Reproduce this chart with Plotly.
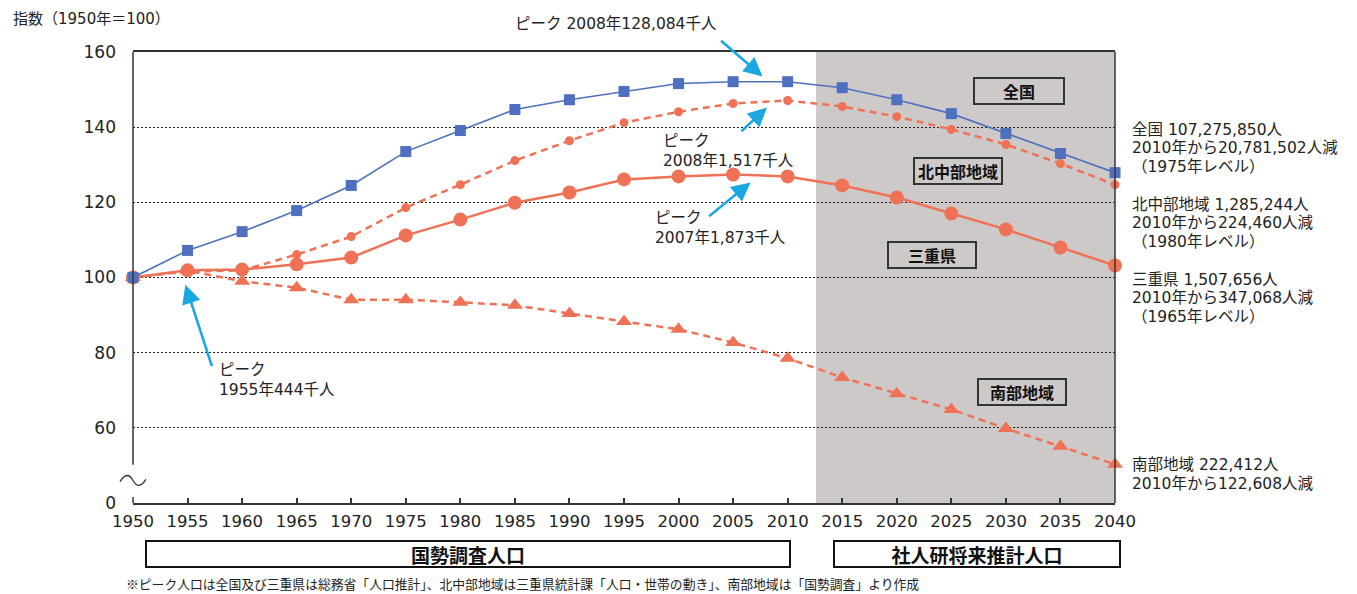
import plotly.graph_objects as go

years = [1950, 1955, 1960, 1965, 1970, 1975, 1980, 1985, 1990, 1995,
         2000, 2005, 2010, 2015, 2020, 2025, 2030, 2035, 2040]
zenkoku = [100, 107.2, 112.2, 117.8, 124.5, 133.5, 139.1, 144.7, 147.3, 149.5,
           151.6, 152.1, 152.1, 150.5, 147.3, 143.6, 138.3, 133.0, 127.9]
hokuchubu = [100, 101.6, 101.9, 106.1, 110.9, 118.6, 124.7, 131.1, 136.4, 141.2,
             144.1, 146.3, 147.1, 145.5, 142.8, 139.4, 135.4, 130.3, 124.7]
mie = [100, 101.9, 102.1, 103.5, 105.3, 111.2, 115.4, 119.9, 122.6, 126.1,
       126.9, 127.4, 126.9, 124.5, 121.3, 117.0, 112.8, 108.0, 103.2]
nanbu = [100, 101.8, 99.0, 97.3, 94.1, 94.1, 93.4, 92.6, 90.4, 88.3,
         86.2, 82.7, 78.5, 73.4, 69.1, 64.9, 59.8, 55.1, 50.3]

ytick_vals = [40, 60, 80, 100, 120, 140, 160]
ytick_text = ["0", "60", "80", "100", "120", "140", "160"]
xtick_vals = years

BLUE = "#4f70be"
ORANGE = "#f07256"
CYAN = "#1aa7e2"
GREY = "#cdc9c8"
INK = "#222222"
FONT = "DejaVu Sans, Noto Sans CJK JP, sans-serif"
JFONT = "Noto Sans CJK JP, sans-serif"

# plot area in page pixels (reference): x 133..1115, y 52..503
PL, PR, PT, PB = 133, 1115, 52, 503
PW, PH = PR - PL, PB - PT
BODY = 8  # default page margin of the html body


def px(xp):
    return (xp - PL) / PW


def py(yp):
    return (PB - yp) / PH


fig = go.Figure()

fig.add_trace(go.Scatter(x=years, y=nanbu, mode="lines+markers", name="南部地域",
                         line=dict(color=ORANGE, width=2.5, dash="7px,5px"),
                         marker=dict(symbol="triangle-up", size=14, color=ORANGE),
                         cliponaxis=False))
fig.add_trace(go.Scatter(x=years, y=hokuchubu, mode="lines+markers", name="北中部地域",
                         line=dict(color=ORANGE, width=2.5, dash="7px,5px"),
                         marker=dict(symbol="circle", size=9, color=ORANGE),
                         cliponaxis=False))
fig.add_trace(go.Scatter(x=years, y=mie, mode="lines+markers", name="三重県",
                         line=dict(color=ORANGE, width=2.5),
                         marker=dict(symbol="circle", size=14, color=ORANGE),
                         cliponaxis=False))
fig.add_trace(go.Scatter(x=years, y=zenkoku, mode="lines+markers", name="全国",
                         line=dict(color=BLUE, width=1.6),
                         marker=dict(symbol="square", size=11, color=BLUE),
                         cliponaxis=False))

bx = 13 / PW
shapes = [
    dict(type="rect", xref="x", yref="y", x0=2012.6, x1=2040, y0=40, y1=160,
         fillcolor=GREY, line=dict(width=0), layer="below"),
    # left axis (broken)
    dict(type="line", xref="paper", yref="y", x0=0, x1=0, y0=50.2, y1=160,
         line=dict(color="#333", width=1.5)),
    dict(type="line", xref="paper", yref="y", x0=0, x1=0, y0=40, y1=41.6,
         line=dict(color="#333", width=1.5)),
    # right border
    dict(type="line", xref="paper", yref="y", x0=1, x1=1, y0=40, y1=160,
         line=dict(color="#333", width=1.5)),
    # break mark
    dict(type="path", xref="paper", yref="y",
         path=f"M {-bx},45.7 C {-bx*0.6},47.8 {-bx*0.3},47.8 0,46 S {bx*0.6},44.2 {bx},46.3",
         line=dict(color="#333", width=1.3)),
]

annotations = []

annotations.append(dict(text="指数（1950年＝100）", xref="paper", yref="paper",
                        x=px(11), y=py(19), xanchor="left",
                        yanchor="middle", showarrow=False,
                        font=dict(size=15, color=INK, family=FONT)))

# label boxes inside the plot
for txt, cx, cy, w in [("全国", 2031.2, 149.5, 88), ("北中部地域", 2025.6, 128.3, 86),
                       ("三重県", 2023.2, 105.9, 86), ("南部地域", 2031.5, 69.5, 86)]:
    annotations.append(dict(text="<b>" + txt + "</b>", x=cx, y=cy, xref="x", yref="y",
                            showarrow=False, width=w, height=24, borderpad=0,
                            bordercolor="#333", borderwidth=2, bgcolor=GREY,
                            font=dict(size=16, color="#111", family=JFONT)))

# right side notes
right_lines = [
    ("全国 107,275,850人", 130), ("2010年から20,781,502人減", 148), ("（1975年レベル）", 167),
    ("北中部地域 1,285,244人", 205), ("2010年から224,460人減", 223), ("（1980年レベル）", 242),
    ("三重県 1,507,656人", 280), ("2010年から347,068人減", 298), ("（1965年レベル）", 317),
    ("南部地域 222,412人", 465), ("2010年から122,608人減", 484),
]
for txt, yy in right_lines:
    annotations.append(dict(text=txt, xref="paper", yref="paper",
                            x=px(1130), y=py(yy),
                            xanchor="left", yanchor="middle", showarrow=False,
                            font=dict(size=15.5, color=INK, family=FONT)))

# peak texts
peak_texts = [
    ("ピーク 2008年128,084千人", 513, 24),
    ("ピーク<br>2008年1,517千人", 661, 151),
    ("ピーク<br>2007年1,873千人", 653, 228),
    ("ピーク<br>1955年444千人", 217, 380),
]
for txt, xx, yy in peak_texts:
    annotations.append(dict(text=txt, xref="paper", yref="paper",
                            x=px(xx), y=py(yy),
                            xanchor="left", yanchor="middle", align="left",
                            showarrow=False,
                            font=dict(size=15.5, color=INK, family=FONT)))

# arrows
for hx, hy, ax, ay in [(2007.7, 153.5, -43, -37), (2008.1, 145.2, -27, 25),
                       (2006.6, 125.3, -43, 35), (1954.8, 98.1, 27, 83)]:
    annotations.append(dict(text="", x=hx, y=hy, xref="x", yref="y", ax=ax, ay=ay,
                            showarrow=True, arrowhead=2, arrowsize=1.45,
                            arrowwidth=2.6, arrowcolor=CYAN, standoff=0))

# bottom boxes
for txt, x0, x1 in [("国勢調査人口", 145, 791), ("社人研将来推計人口", 833, 1121)]:
    annotations.append(dict(text="<b>" + txt + "</b>", xref="paper", yref="paper",
                            x=px((x0 + x1) / 2), y=py(554),
                            xanchor="center", yanchor="middle", showarrow=False,
                            width=x1 - x0 - 4, height=24, borderpad=0,
                            bordercolor="#111", borderwidth=2, bgcolor="white",
                            font=dict(size=19, color="#111", family=JFONT)))

annotations.append(dict(text="※ピーク人口は全国及び三重県は総務省「人口推計」、北中部地域は三重県統計課「人口・世帯の動き」、南部地域は「国勢調査」より作成",
                        xref="paper", yref="paper", x=px(124),
                        y=py(583), xanchor="left", yanchor="middle",
                        showarrow=False, font=dict(size=12.8, color=INK, family=JFONT)))

fig.update_layout(
    width=1357 - BODY, height=594 - BODY,
    margin=dict(l=PL - BODY, r=1357 - PR, t=PT - BODY, b=594 - PB, pad=0),
    plot_bgcolor="white", paper_bgcolor="white",
    showlegend=False,
    shapes=shapes, annotations=annotations,
    font=dict(family=FONT, color=INK),
    xaxis=dict(range=[1950, 2040], tickvals=xtick_vals, ticks="inside", ticklen=5,
               tickwidth=1.5, tickcolor="#333", showline=True, mirror=True,
               linecolor="#333", linewidth=1.5, showgrid=False, zeroline=False,
               tickfont=dict(size=16.5, color=INK, family=FONT), ticklabelstandoff=2),
    yaxis=dict(range=[40, 160], tickvals=ytick_vals, ticktext=ytick_text,
               showline=False, showgrid=True, gridcolor="#222", griddash="2px,2px",
               gridwidth=1, zeroline=False, ticks="",
               tickfont=dict(size=17, color=INK, family=FONT), ticklabelstandoff=16),
)

fig.write_html("out.html")
